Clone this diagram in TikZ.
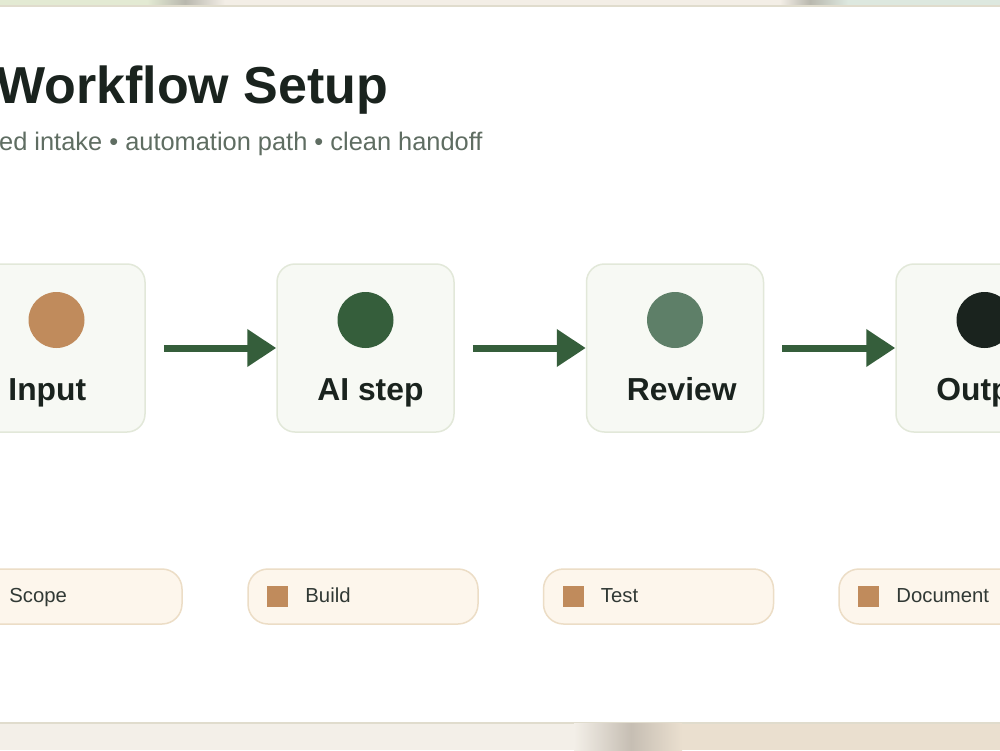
\documentclass[tikz,border=0pt]{standalone}
\usepackage{fontspec}
\setmainfont{Liberation Sans}
\usetikzlibrary{arrows.meta,calc}
\definecolor{ink}{HTML}{1A231E}
\definecolor{sub}{HTML}{5F6D62}
\definecolor{cardfill}{HTML}{F7F9F4}
\definecolor{cardline}{HTML}{E2E8D9}
\definecolor{pillfill}{HTML}{FDF6EC}
\definecolor{pillline}{HTML}{ECDDC6}
\definecolor{tan}{HTML}{C08B5C}
\definecolor{forest}{HTML}{355E3B}
\definecolor{sage}{HTML}{5E7F68}
\definecolor{bandgreen}{HTML}{E3EAD3}
\definecolor{bandbeige}{HTML}{F3EEE6}
\definecolor{bandgray}{HTML}{B9B8AE}
\definecolor{bandmint}{HTML}{DDE8DF}
\definecolor{bandline}{HTML}{E0DCCD}
\definecolor{botbeige}{HTML}{F3EFE8}
\definecolor{botsand}{HTML}{EADFCF}
\definecolor{botgray}{HTML}{C6BEB3}
\tikzset{
  card/.style={rectangle, rounded corners=18pt, minimum width=177pt, minimum height=168pt,
    fill=cardfill, draw=cardline, line width=1.5pt, inner sep=0pt},
  dot/.style={circle, minimum size=56pt, inner sep=0pt},
  cardlabel/.style={anchor=base west, inner sep=0pt, text=ink, font=\fontsize{31.8}{36}\selectfont\bfseries},
  flow/.style={draw=forest, line width=7pt, -{Triangle[length=29pt,width=36pt]}},
  pill/.style={rectangle, rounded corners=20pt, minimum width=230pt, minimum height=55pt,
    fill=pillfill, draw=pillline, line width=1.5pt, inner sep=0pt},
  mark square/.style={rectangle, minimum size=21pt, inner sep=0pt, fill=tan},
  pilltext/.style={anchor=base west, inner sep=0pt, text=ink!90, font=\fontsize{20.3}{24}\selectfont},
}
\begin{document}
\begin{tikzpicture}[x=1pt,y=-1pt]
\useasboundingbox (0,0) rectangle (1000,750);
\clip (0,0) rectangle (1000,750);
\fill[white] (0,0) rectangle (1000,750);
% top band
\fill[bandgreen] (0,0) rectangle (147,6);
\shade[left color=bandgreen,right color=bandgray] (147,0) rectangle (185,6);
\shade[left color=bandgray,right color=bandbeige] (185,0) rectangle (225,6);
\fill[bandbeige] (225,0) rectangle (780,6);
\shade[left color=bandbeige,right color=bandgray] (780,0) rectangle (810,6);
\shade[left color=bandgray,right color=bandmint] (810,0) rectangle (848,6);
\fill[bandmint] (848,0) rectangle (1000,6);
\fill[bandline] (0,5) rectangle (1000,7);
% bottom band
\fill[bandline] (0,721.5) rectangle (1000,723.5);
\fill[botbeige] (0,723.5) rectangle (574,750);
\shade[left color=botbeige,right color=botgray] (574,723.5) rectangle (631,750);
\shade[left color=botgray,right color=botsand] (631,723.5) rectangle (682,750);
\fill[botsand] (682,723.5) rectangle (1000,750);
% title
\node[anchor=base west, inner sep=0pt, text=ink, font=\fontsize{52}{60}\selectfont\bfseries] (title) at (-4,103) {Workflow Setup};
\node[anchor=base west, inner sep=0pt, text=sub, font=\fontsize{25.4}{30}\selectfont] (subtitle) at (-1,150) {ed intake • automation path • clean handoff};
% cards
\node[card] (input) at (56.5,348) {};
\node[card] (ai) at (365.5,348) {};
\node[card] (review) at (675,348) {};
\node[card] (output) at (984.5,348) {};
\node[dot, fill=tan] (dinput) at (56.5,320) {};
\node[dot, fill=forest] (dai) at (365.5,320) {};
\node[dot, fill=sage] (dreview) at (675,320) {};
\node[dot, fill=ink] (doutput) at (984.5,320) {};
\node[cardlabel] (linput) at ($(input.west)+(41,0)$) [yshift=-52pt] {Input};
\node[cardlabel] (lai) at ($(ai.west)+(41,0)$) [yshift=-52pt] {AI step};
\node[cardlabel] (lreview) at ($(review.west)+(41,0)$) [yshift=-52pt] {Review};
\node[cardlabel] (loutput) at ($(output.west)+(41,0)$) [yshift=-52pt] {Output};
% arrows
\draw[flow] ([xshift=18pt]input.east) -- (ai.west);
\draw[flow] ([xshift=18pt]ai.east) -- (review.west);
\draw[flow] ([xshift=18pt]review.east) -- (output.west);
% pills
\node[pill] (scope) at (67,596.5) {};
\node[pill] (build) at (363,596.5) {};
\node[pill] (test) at (658.5,596.5) {};
\node[pill] (doc) at (954,596.5) {};
\foreach \p/\t in {scope/Scope, build/Build, test/Test, doc/Document}{
  \node[mark square] (sq\p) at ($(\p.west)+(30.5,0)$) {};
  \node[pilltext] (t\p) at ($(\p.west)+(58,0)$) [yshift=-6pt] {\t};
}
\end{tikzpicture}
\end{document}
